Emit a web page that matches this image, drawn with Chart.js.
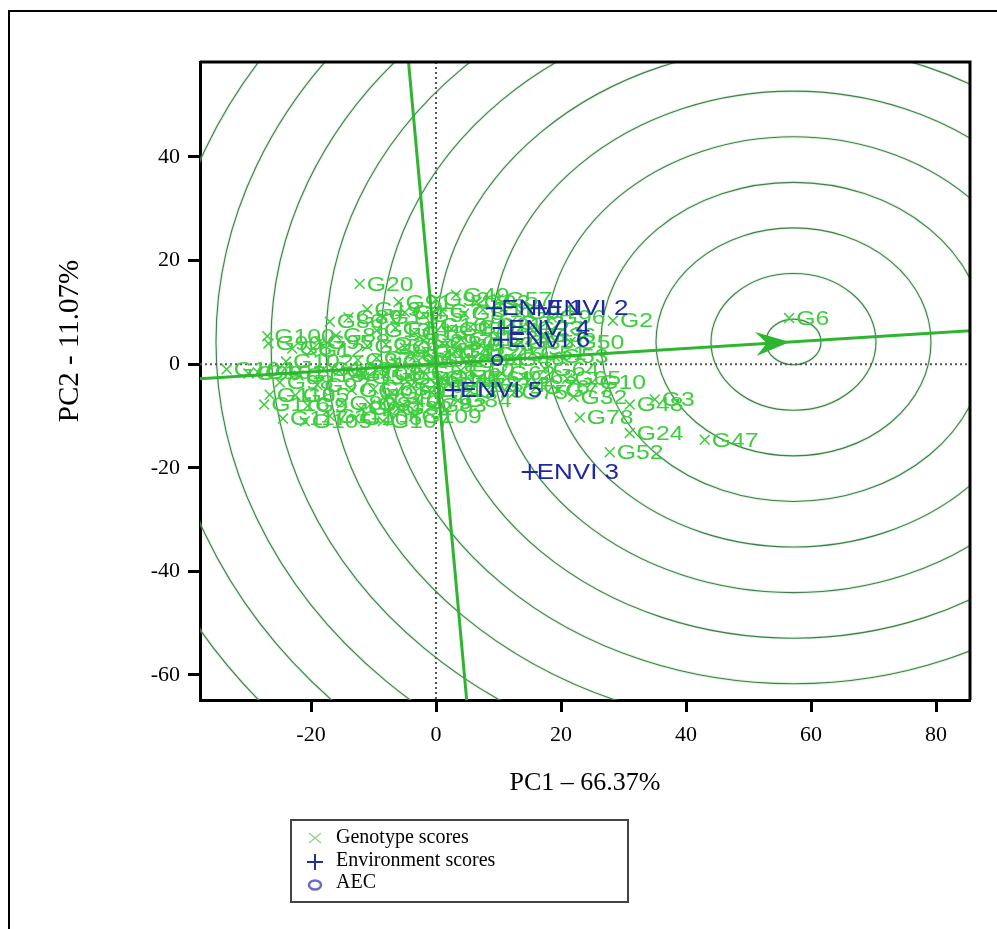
<!DOCTYPE html>
<html>
<head>
<meta charset="utf-8">
<script src="https://cdn.jsdelivr.net/npm/chart.js@4.4.1/dist/chart.umd.min.js"></script>
<style>
  html, body { margin: 0; padding: 0; background: #fff; }
  #wrap { width: 997px; height: 929px; position: relative; }
</style>
</head>
<body>
<div id="wrap"><canvas id="gge"></canvas></div>
<script>
// Genotype scores (PC1, PC2)
const genoNames = [
  'G6', 'G47', 'G3', 'G48', 'G24', 'G52', 'G78', 'G32', 'G2', 'G50',
  'G20', 'G49', 'G57', 'G19', 'G100', 'G90', 'G104', 'G117', 'G116', 'G79',
  'G110', 'G95', 'G86', 'G12', 'G27', 'G101', 'G113', 'G108', 'G9', 'G115',
  'G66', 'G40', 'G1', 'G4', 'G5', 'G7', 'G8', 'G11', 'G13', 'G14',
  'G15', 'G16', 'G17', 'G18', 'G21', 'G22', 'G23', 'G25', 'G26', 'G28',
  'G29', 'G30', 'G31', 'G33', 'G34', 'G35', 'G36', 'G37', 'G38', 'G39',
  'G41', 'G42', 'G43', 'G44', 'G45', 'G46', 'G51', 'G53', 'G54', 'G55',
  'G56', 'G58', 'G59', 'G60', 'G61', 'G62', 'G63', 'G64', 'G65', 'G67',
  'G68', 'G69', 'G70', 'G71', 'G72', 'G73', 'G74', 'G75', 'G76', 'G77',
  'G80', 'G81', 'G82', 'G83', 'G84', 'G85', 'G87', 'G88', 'G89', 'G91',
  'G92', 'G93', 'G94', 'G96', 'G97', 'G98', 'G99', 'G102', 'G103', 'G105',
  'G106', 'G107', 'G109', 'G111', 'G112', 'G114', 'G10'
];
const genoPC1 = [
  56.5, 43.0, 35.0, 31.0, 31.0, 27.8, 23.0, 22.0, 28.3, 21.5,
  -12.2, 3.2, 10.0, -11.0, -27.0, -26.8, -33.5, -24.5, -27.5, -2.8,
  -26.6, -18.6, -17.0, -20.0, -15.5, -28.5, -22.0, -13.0, -20.5, -17.0,
  -12.0, -8.0, -8.5, -5.0, -2.0, 1.0, 4.5, 7.5, -9.5, -6.5,
  -3.5, -0.5, 2.5, 5.5, 8.5, 12.0, 15.0, -11.0, -8.0, -5.0,
  -2.0, 1.0, 4.0, 7.0, 10.0, 13.5, 17.0, -12.5, -9.5, -6.5,
  -3.5, -0.5, 2.5, 5.5, 8.5, 12.0, 15.5, 19.0, -11.5, -8.0,
  -5.0, -2.0, 1.0, 4.0, 7.0, 10.5, 14.0, 17.5, 21.0, -13.5,
  -10.0, -7.0, -4.0, -1.0, 2.0, 5.5, 9.0, 12.5, 16.0, 19.5,
  -15.0, -10.5, -6.0, -0.5, 3.5, -22.5, -23.0, -16.0, -14.0, -6.0,
  0.0, 6.5, 13.5, 18.5, -19.0, -25.0, -30.0, -24.0, -18.0, -21.0,
  -13.0, -8.5, -3.5, 0.5, 3.0, -1.5, 25.0
];
const genoPC2 = [
  8.9, -14.6, -6.8, -7.8, -13.3, -17.0, -10.3, -6.3, 8.4, 4.3,
  15.5, 13.4, 12.6, 10.6, 5.4, 4.0, -1.0, -10.5, -7.8, -7.4,
  -5.9, 4.3, 8.2, 2.6, -1.3, -1.6, -2.2, -2.0, -8.0, -10.0,
  -8.5, -7.0, 9.0, 10.0, 9.5, 10.2, 9.8, 10.5, 6.5, 7.0,
  6.0, 7.5, 6.8, 7.2, 7.5, 8.0, 7.0, 3.5, 3.8, 3.2,
  4.5, 4.0, 4.8, 3.8, 5.0, 4.2, 5.5, 0.8, 1.2, 0.5,
  1.5, 0.8, 1.8, 0.6, 2.0, 1.0, 2.2, 1.5, -2.5, -1.8,
  -2.8, -1.5, -2.5, -1.2, -2.8, -1.8, -2.5, -1.0, -2.8, -5.0,
  -4.8, -5.5, -4.2, -5.0, -4.0, -5.2, -4.0, -5.5, -4.5, -5.0,
  -7.5, -7.8, -8.5, -8.0, -7.0, -6.0, 3.0, 5.5, 9.0, 12.0,
  12.5, 12.0, 10.0, 9.0, -4.0, -3.5, -1.8, 0.5, -1.0, -11.0,
  -10.5, -11.0, -10.0, -3.0, 2.5, 2.5, -3.5
];

// Environment scores
const envNames = ['ENVI 1', 'ENVI 2', 'ENVI 3', 'ENVI 4', 'ENVI 5', 'ENVI 6'];
const envPC1 = [9.3, 16.5, 15.0, 10.4, 2.7, 10.4];
const envPC2 = [10.8, 10.8, -20.8, 7.0, -5.0, 4.7];

// Average environment coordinate and its axes
const aecPoint = [9.8, 0.8];
const aecArrow = [56.6, 4.3];
const aecAbscissa = [[-40, -3.0], [90, 6.8]];
const aecOrdinate = [[-4.9, 65], [5.3, -70]];
const ringCentre = [57.2, 4.3];
const ringRadii = [4.4, 13.2, 22, 30.8, 39.6, 48.4, 57.2, 66, 74.8, 83.6, 92.4, 101.2, 110, 118.8, 127.6];

const xTicks = [-20, 0, 20, 40, 60, 80];
const yTicks = [-60, -40, -20, 0, 20, 40];

const GREEN = 'rgb(62, 205, 62)';
const BLUE = 'rgb(30, 40, 160)';
const SERIF = '"Liberation Serif", "Times New Roman", serif';
const SANS = '"Liberation Sans", Arial, sans-serif';

const toPoints = (xs, ys) => xs.map((v, i) => ({ x: v, y: ys[i] }));
const pairs = arr => arr.map(p => ({ x: p[0], y: p[1] }));

// Draws rings, zero lines, point labels, arrow, legend and frames
const ggePlugin = {
  id: 'ggeExtras',
  beforeDatasetsDraw(chart) {
    const { ctx, chartArea: a, scales: { x, y } } = chart;
    ctx.save();
    ctx.beginPath();
    ctx.rect(a.left, a.top, a.right - a.left, a.bottom - a.top);
    ctx.clip();
    const cx = x.getPixelForValue(ringCentre[0]);
    const cy = y.getPixelForValue(ringCentre[1]);
    const kx = Math.abs(x.getPixelForValue(1) - x.getPixelForValue(0));
    const ky = Math.abs(y.getPixelForValue(1) - y.getPixelForValue(0));
    ringRadii.forEach(r => {
      ctx.beginPath();
      ctx.ellipse(cx, cy, r * kx, r * ky, 0, 0, Math.PI * 2);
      ctx.strokeStyle = 'rgba(140, 225, 140, 0.3)';
      ctx.lineWidth = 3;
      ctx.stroke();
      ctx.strokeStyle = '#457c50';
      ctx.lineWidth = 1.1;
      ctx.stroke();
    });
    // dotted zero lines
    const x0 = x.getPixelForValue(0), y0 = y.getPixelForValue(0);
    ctx.setLineDash([2, 3]);
    ctx.strokeStyle = '#555';
    ctx.lineWidth = 2;
    ctx.beginPath();
    ctx.moveTo(x0, a.top); ctx.lineTo(x0, a.bottom);
    ctx.moveTo(a.left, y0); ctx.lineTo(a.right, y0);
    ctx.stroke();
    ctx.restore();
  },
  afterDatasetDraw(chart, args) {
    const ds = chart.data.datasets[args.index];
    if (!ds.names) return;
    const { ctx, chartArea: a } = chart;
    ctx.save();
    ctx.beginPath();
    ctx.rect(a.left, a.top, a.right - a.left, a.bottom - a.top);
    ctx.clip();
    ctx.font = ds.labelSize + 'px ' + SANS;
    ctx.fillStyle = ds.labelColor;
    ctx.textBaseline = 'middle';
    args.meta.data.forEach((pt, i) => {
      ctx.save();
      ctx.translate(pt.x + 7, pt.y + 1);
      ctx.scale(1.18, 1);
      ctx.fillText(ds.names[i], 0, 0);
      ctx.restore();
    });
    ctx.restore();
  },
  afterDraw(chart) {
    const { ctx, chartArea: a, scales: { x, y } } = chart;
    ctx.save();

    // arrow head on the AEC abscissa
    const tx = x.getPixelForValue(aecArrow[0]), ty = y.getPixelForValue(aecArrow[1]);
    const ang = Math.atan2(ty - y.getPixelForValue(0), tx - x.getPixelForValue(0));
    ctx.save();
    ctx.translate(tx, ty);
    ctx.rotate(ang);
    ctx.beginPath();
    ctx.moveTo(0, 0);
    ctx.lineTo(-34, -12);
    ctx.lineTo(-23, 0);
    ctx.lineTo(-34, 12);
    ctx.closePath();
    ctx.fillStyle = '#2fb52f';
    ctx.fill();
    ctx.restore();

    // top and right edges of the plot box
    ctx.strokeStyle = '#000';
    ctx.lineWidth = 3;
    ctx.beginPath();
    ctx.moveTo(a.left, a.top); ctx.lineTo(a.right, a.top); ctx.lineTo(a.right, a.bottom);
    ctx.stroke();

    // outer frame
    ctx.lineWidth = 2;
    ctx.beginPath();
    ctx.moveTo(9, chart.height); ctx.lineTo(9, 11); ctx.lineTo(chart.width, 11);
    ctx.stroke();

    // y axis title
    ctx.save();
    ctx.translate(70, 341);
    ctx.rotate(-Math.PI / 2);
    ctx.font = '29px ' + SERIF;
    ctx.fillStyle = '#000';
    ctx.textAlign = 'center';
    ctx.textBaseline = 'middle';
    ctx.fillText('PC2 - 11.07%', 0, 0);
    ctx.restore();

    // legend box
    ctx.strokeStyle = '#444';
    ctx.lineWidth = 2;
    ctx.strokeRect(291, 820, 337, 82);
    ctx.font = '20px ' + SERIF;
    ctx.fillStyle = '#000';
    ctx.textBaseline = 'middle';
    const mx = 315;
    // genotype marker
    ctx.strokeStyle = 'rgb(150, 210, 150)';
    ctx.lineWidth = 1.5;
    ctx.beginPath();
    ctx.moveTo(mx - 6, 833); ctx.lineTo(mx + 6, 843);
    ctx.moveTo(mx - 6, 843); ctx.lineTo(mx + 6, 833);
    ctx.stroke();
    ctx.fillText('Genotype scores', 336, 838);
    // environment marker
    ctx.strokeStyle = '#24308f';
    ctx.lineWidth = 2;
    ctx.beginPath();
    ctx.moveTo(mx - 8, 862); ctx.lineTo(mx + 8, 862);
    ctx.moveTo(mx, 854); ctx.lineTo(mx, 870);
    ctx.stroke();
    ctx.fillText('Environment scores', 336, 861);
    // AEC marker
    ctx.strokeStyle = '#6a6ac8';
    ctx.lineWidth = 2.5;
    ctx.beginPath();
    ctx.ellipse(mx, 885, 6, 4.5, 0, 0, Math.PI * 2);
    ctx.stroke();
    ctx.fillText('AEC', 336, 883);

    ctx.restore();
  }
};

new Chart(document.getElementById('gge'), {
  type: 'scatter',
  data: {
    datasets: [
      {
        label: 'Genotype scores',
        data: toPoints(genoPC1, genoPC2),
        names: genoNames,
        labelColor: GREEN,
        labelSize: 21,
        pointStyle: 'crossRot',
        pointRadius: 7,
        borderColor: GREEN,
        borderWidth: 1.5,
        order: 4
      },
      {
        label: 'AEC abscissa',
        data: pairs(aecAbscissa),
        showLine: true,
        pointRadius: 0,
        borderColor: '#2fb52f',
        borderWidth: 3,
        order: 3
      },
      {
        label: 'AEC ordinate',
        data: pairs(aecOrdinate),
        showLine: true,
        pointRadius: 0,
        borderColor: '#2fb52f',
        borderWidth: 3,
        order: 3
      },
      {
        label: 'Environment scores',
        data: toPoints(envPC1, envPC2),
        names: envNames,
        labelColor: BLUE,
        labelSize: 22,
        pointStyle: 'cross',
        pointRadius: 8,
        borderColor: BLUE,
        borderWidth: 2,
        order: 1
      },
      {
        label: 'AEC',
        data: [{ x: aecPoint[0], y: aecPoint[1] }],
        pointStyle: 'circle',
        pointRadius: 5,
        backgroundColor: 'rgba(0,0,0,0)',
        borderColor: BLUE,
        borderWidth: 2,
        order: 0
      }
    ]
  },
  options: {
    responsive: true,
    maintainAspectRatio: false,
    animation: false,
    layout: { padding: { top: 62, right: 27, left: 0, bottom: 0 } },
    plugins: {
      legend: { display: false },
      tooltip: { enabled: false }
    },
    scales: {
      x: {
        type: 'linear',
        min: -37.76,
        max: 85.44,
        afterBuildTicks: s => { s.ticks = xTicks.map(v => ({ value: v })); },
        afterFit: s => { s.height = 229; },
        grid: { drawOnChartArea: false, drawTicks: true, tickLength: 12, tickWidth: 3, tickColor: '#000' },
        border: { display: true, width: 3, color: '#000' },
        ticks: { color: '#000', padding: 10, maxRotation: 0, font: { family: SERIF, size: 22 } },
        title: {
          display: true,
          text: 'PC1 – 66.37%',
          color: '#000',
          font: { family: SERIF, size: 26 },
          padding: { top: 0, bottom: 130 }
        }
      },
      y: {
        type: 'linear',
        min: -64.83,
        max: 58.33,
        afterBuildTicks: s => { s.ticks = yTicks.map(v => ({ value: v })); },
        afterFit: s => { s.width = 200; },
        grid: { drawOnChartArea: false, drawTicks: true, tickLength: 12, tickWidth: 3, tickColor: '#000' },
        border: { display: true, width: 3, color: '#000' },
        ticks: { color: '#000', padding: 8, font: { family: SERIF, size: 22 } }
      }
    }
  },
  plugins: [ggePlugin]
});
</script>
</body>
</html>
